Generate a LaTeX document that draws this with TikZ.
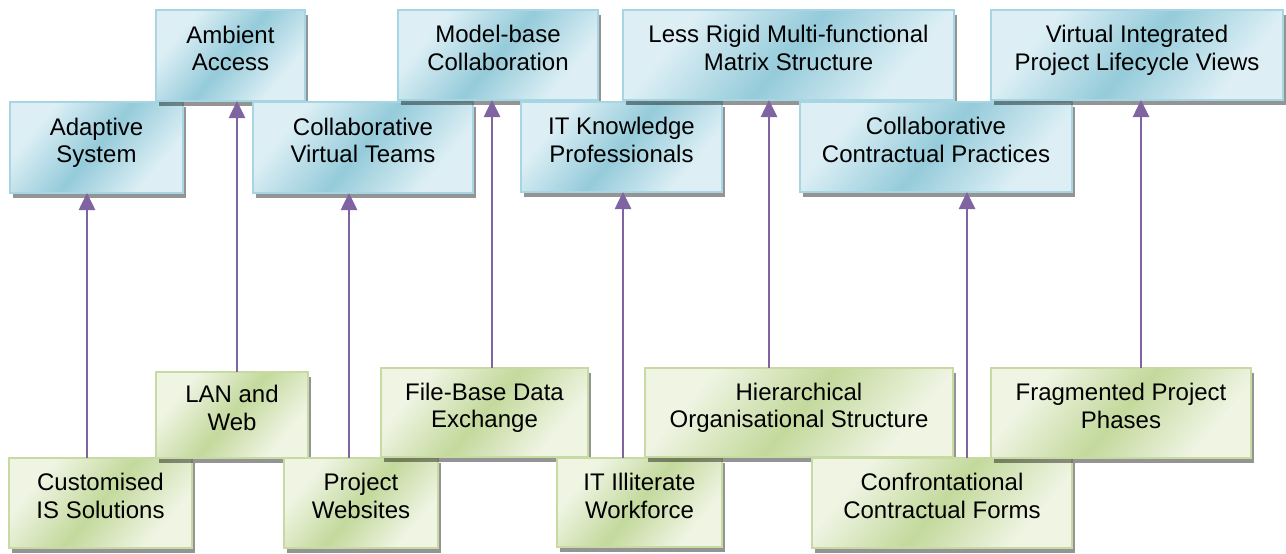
\documentclass[tikz,border=0pt]{standalone}
\usepackage{fontspec}
\setmainfont{Liberation Sans}
\usetikzlibrary{shadows,arrows.meta}
\definecolor{bL}{HTML}{DDEFF5}
\definecolor{bD}{HTML}{95CBDA}
\definecolor{bB}{HTML}{A6D6E3}
\definecolor{gL}{HTML}{EFF4E3}
\definecolor{gD}{HTML}{C3D99C}
\definecolor{gB}{HTML}{C7DAA2}
\definecolor{arrc}{HTML}{8064A2}
\pgfdeclarehorizontalshading{bluesh}{100bp}{color(0bp)=(bL); color(28bp)=(bL); color(50bp)=(bD); color(72bp)=(bL); color(100bp)=(bL)}
\pgfdeclarehorizontalshading{greensh}{100bp}{color(0bp)=(gL); color(28bp)=(gL); color(50bp)=(gD); color(72bp)=(gL); color(100bp)=(gL)}
\begin{document}
\begin{tikzpicture}[x=1pt,y=-1pt,
  box/.style={rectangle, anchor=north west, inner sep=0pt, outer sep=0pt,
    align=center, text depth=14pt, line width=1.2pt,
    font=\fontsize{24}{27.6}\selectfont, shade,
    drop shadow={shadow xshift=3pt, shadow yshift=-5pt, fill=black, opacity=0.42}},
  bbox/.style={box, draw=bB, shading=bluesh, shading angle=-40},
  gbox/.style={box, draw=gB, shading=greensh, shading angle=-40},
  arr/.style={draw=arrc, line width=2.6pt, -{Triangle[width=16pt,length=17pt]}}]
\useasboundingbox (0,0) rectangle (1286,554);
% top (blue) row
\node[bbox, minimum width=173pt, minimum height=91pt] (adapt) at (10,102) {Adaptive\\System};
\node[bbox, minimum width=149pt, minimum height=91pt] (ambient) at (156,10) {Ambient\\Access};
\node[bbox, minimum width=220pt, minimum height=91pt] (cvt) at (253,102) {Collaborative\\Virtual Teams};
\node[bbox, minimum width=200pt, minimum height=90pt] (model) at (398,10) {Model-base\\Collaboration};
\node[bbox, minimum width=201pt, minimum height=90pt] (itk) at (521,102) {IT Knowledge\\Professionals};
\node[bbox, minimum width=331pt, minimum height=90pt] (rigid) at (623,10) {Less Rigid Multi-functional\\Matrix Structure};
\node[bbox, minimum width=272pt, minimum height=90pt] (ccp) at (800,102) {Collaborative\\Contractual Practices};
\node[bbox, minimum width=292pt, minimum height=90pt] (vipl) at (991,10) {Virtual Integrated\\Project Lifecycle Views};
% bottom (green) row
\node[gbox, minimum width=183pt, minimum height=90pt] (cust) at (9,458) {Customised\\IS Solutions};
\node[gbox, minimum width=152pt, minimum height=86pt] (lan) at (156,372) {LAN and\\Web};
\node[gbox, minimum width=154pt, minimum height=90pt] (pw) at (284,458) {Project\\Websites};
\node[gbox, minimum width=207pt, minimum height=89pt] (fb) at (381,368) {File-Base Data\\Exchange};
\node[gbox, minimum width=165pt, minimum height=89pt] (iti) at (557,458) {IT Illiterate\\Workforce};
\node[gbox, minimum width=308pt, minimum height=89pt] (hier) at (645,368) {Hierarchical\\Organisational Structure};
\node[gbox, minimum width=260pt, minimum height=90pt] (conf) at (812,458) {Confrontational\\Contractual Forms};
\node[gbox, minimum width=260pt, minimum height=90pt] (frag) at (991,368) {Fragmented Project\\Phases};
% connectors
\draw[arr] ([xshift=-13.5pt]cust.north) -- ([xshift=-13.5pt]cust.north |- adapt.south);
\draw[arr] ([xshift=5pt]lan.north) -- ([xshift=5pt]lan.north |- ambient.south);
\draw[arr] ([xshift=-12pt]pw.north) -- ([xshift=-12pt]pw.north |- cvt.south);
\draw[arr] ([xshift=7.5pt]fb.north) -- ([xshift=7.5pt]fb.north |- model.south);
\draw[arr] ([xshift=-16.5pt]iti.north) -- ([xshift=-16.5pt]iti.north |- itk.south);
\draw[arr] ([xshift=-30pt]hier.north) -- ([xshift=-30pt]hier.north |- rigid.south);
\draw[arr] ([xshift=25pt]conf.north) -- ([xshift=25pt]conf.north |- ccp.south);
\draw[arr] ([xshift=20pt]frag.north) -- ([xshift=20pt]frag.north |- vipl.south);
\end{tikzpicture}
\end{document}
